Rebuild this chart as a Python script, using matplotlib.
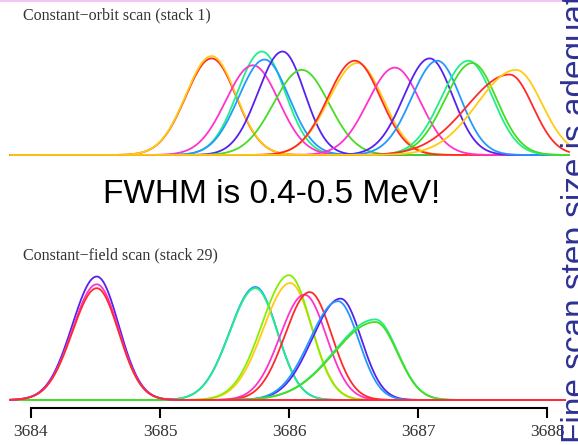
import numpy as np
import matplotlib
matplotlib.use('Agg')
from matplotlib import pyplot as plt

# peak list for each panel: centre (MeV), height, left/right sigma, colour
top_centers = [3685.40, 3685.40, 3685.72, 3685.81, 3685.79, 3685.95, 3686.10,
               3686.51, 3686.53, 3686.82, 3687.09, 3687.15, 3687.39, 3687.42,
               3687.71, 3687.76]
top_heights = [0.84, 0.86, 0.78, 0.83, 0.90, 0.90, 0.74,
               0.82, 0.80, 0.76, 0.84, 0.82, 0.82, 0.80,
               0.70, 0.74]
top_sig_l = [0.20, 0.20, 0.21, 0.20, 0.19, 0.19, 0.22,
             0.21, 0.22, 0.21, 0.20, 0.20, 0.21, 0.21,
             0.33, 0.30]
top_sig_r = [0.19, 0.19, 0.20, 0.19, 0.18, 0.17, 0.21,
             0.20, 0.20, 0.20, 0.18, 0.18, 0.19, 0.19,
             0.18, 0.20]
top_colors = ['#ff2a2a', '#ffcc11', '#ff33cc', '#2299ff', '#22ee88', '#5522ee', '#44dd22',
              '#ff2a2a', '#ffcc11', '#ff33cc', '#5522ee', '#2299ff', '#22ee88', '#44dd22',
              '#ff2a2a', '#ffcc11']
top_order = [1, 2, 4, 5, 3, 6, 7, 9, 8, 10, 11, 12, 13, 14, 15, 16]

bot_centers = [3684.51, 3684.51, 3684.51, 3685.74, 3685.74, 3686.01, 3686.00,
               3686.12, 3686.16, 3686.40, 3686.38, 3686.67, 3686.67]
bot_heights = [0.95, 0.89, 0.86, 0.87, 0.86, 0.90, 0.96,
               0.81, 0.83, 0.78, 0.76, 0.62, 0.60]
bot_sig_l = [0.19, 0.19, 0.19, 0.20, 0.20, 0.21, 0.21,
             0.19, 0.19, 0.22, 0.22, 0.32, 0.32]
bot_sig_r = [0.17, 0.17, 0.17, 0.17, 0.17, 0.17, 0.17,
             0.17, 0.17, 0.16, 0.16, 0.17, 0.17]
bot_colors = ['#5522ee', '#ff33cc', '#ff2a2a', '#2299ff', '#22ee88', '#ffcc11', '#88ee00',
              '#ff33cc', '#ff2a2a', '#5522ee', '#2299ff', '#22ee88', '#44dd22']
bot_order = [2, 2, 3, 1, 1, 1, 1, 1, 1, 1, 1, 1, 1]

tick_vals = [3684, 3685, 3686, 3687, 3688]
top_title = 'Constant\u2212orbit scan (stack 1)'
bot_title = 'Constant\u2212field scan (stack 29)'
note = 'FWHM is 0.4-0.5 MeV!'
side_note = 'Fine scan step size is adequate'

W, H = 578, 445
xlim = (3684 - 31 / 129, 3684 + 547 / 129)


def peak(x, c, h, sl, sr):
    s = np.where(x < c, sl, sr)
    return h * np.exp(-0.5 * ((x - c) / s) ** 2)


fig = plt.figure(figsize=(W / 100, H / 100), dpi=100)

# top panel
ax1 = fig.add_axes([0, (H - 155) / H, 1, 115 / H])
x1 = np.linspace(3683.84, 3688.17, 800)
for i in range(len(top_centers)):
    ax1.plot(x1, peak(x1, top_centers[i], top_heights[i], top_sig_l[i], top_sig_r[i]),
             color=top_colors[i], lw=1.3, zorder=top_order[i], clip_on=False)
ax1.set_xlim(*xlim)
ax1.set_ylim(0, 1)
ax1.axis('off')

# bottom panel
ax2 = fig.add_axes([0, (H - 400) / H, 1, 130 / H])
x2 = np.linspace(3683.84, 3688.14, 800)
for i in range(len(bot_centers)):
    ax2.plot(x2, peak(x2, bot_centers[i], bot_heights[i], bot_sig_l[i], bot_sig_r[i]),
             color=bot_colors[i], lw=1.3, zorder=bot_order[i], clip_on=False)
ax2.set_xlim(*xlim)
ax2.set_ylim(0, 1)
for s in ['top', 'left', 'right']:
    ax2.spines[s].set_visible(False)
ax2.spines['bottom'].set_position(('outward', 6))
ax2.spines['bottom'].set_bounds(3684, 3688)
ax2.spines['bottom'].set_linewidth(1.5)
ax2.set_yticks([])
ax2.set_xticks(tick_vals)
ax2.set_xticklabels([str(t) for t in tick_vals], family='Liberation Serif',
                    fontsize=12.5, color='#333333')
ax2.tick_params(axis='x', direction='out', length=7.5, width=1.5, pad=4)

fig.text(23 / W, 1 - 15 / H, top_title, family='Liberation Serif', fontsize=11.5,
         color='#333333', ha='left', va='center')
fig.text(23 / W, 1 - 255 / H, bot_title, family='Liberation Serif', fontsize=11.5,
         color='#333333', ha='left', va='center')
fig.text(272 / W, 1 - 195 / H, note, family='Liberation Sans', fontsize=24,
         color='black', ha='center', va='center')
# side note runs off the right edge, as on the slide
fig.text(561 / W, 2 / H, side_note, family='Liberation Sans', fontsize=24,
         color='#2e3192', rotation=90, ha='left', va='bottom')

# thin pink rule at the very top
fig.add_artist(plt.Line2D([0, 1], [1 - 1 / H, 1 - 1 / H], color='#f4c4f4', lw=1.5))

fig.savefig('out.png', dpi=100)
